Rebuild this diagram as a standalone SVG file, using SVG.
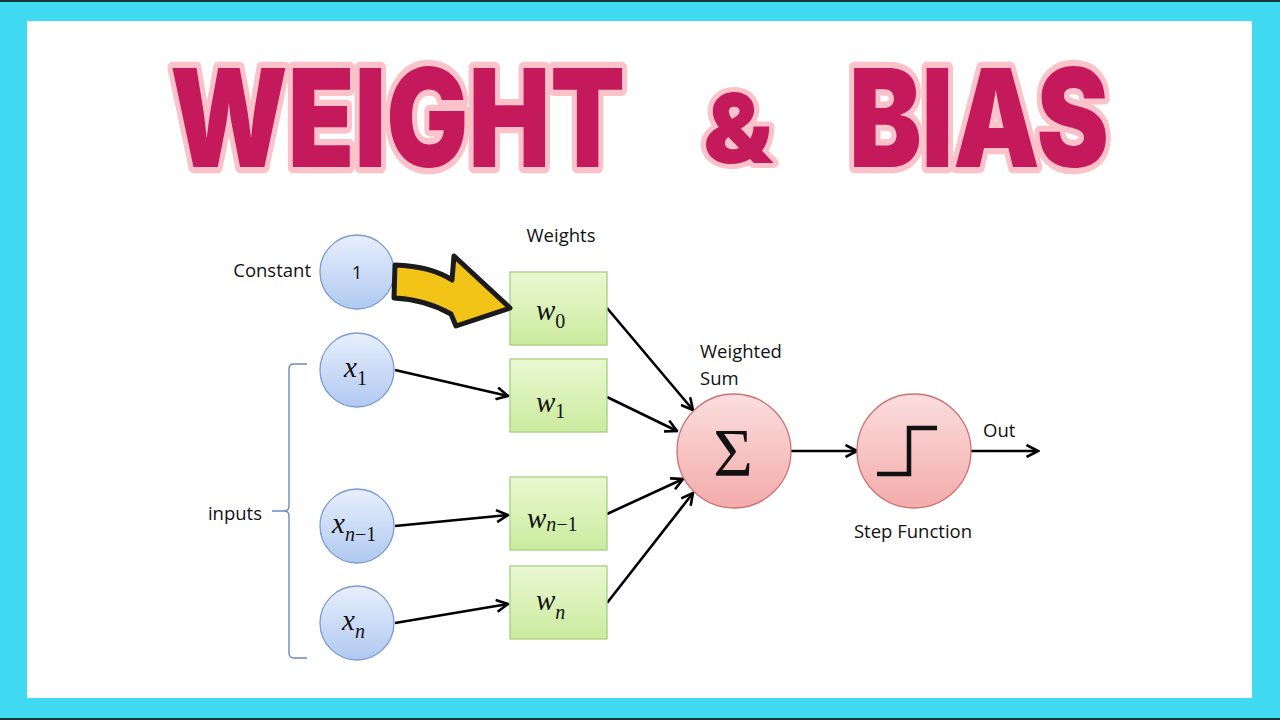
<svg xmlns="http://www.w3.org/2000/svg" width="1280" height="720" viewBox="0 0 1280 720">
<defs>
<style>
.lbl{font-family:"Open Sans","Liberation Sans",sans-serif;font-size:18.5px;fill:#111}
.math{font-family:"Liberation Serif","DejaVu Serif",serif;font-style:italic;font-size:29px;fill:#111}
.sub{font-style:normal;font-size:20px}
.subi{font-style:italic;font-size:20px}
.in{stroke:#7b9bd2;stroke-width:1.3;fill:url(#gb)}
.wt{stroke:#a7cf80;stroke-width:1.3;fill:url(#gg)}
.op{stroke:#cc7272;stroke-width:1.3;fill:url(#gp)}
.con{stroke:#000;stroke-width:2.6;fill:none;marker-end:url(#ah)}
.title{font-family:Inter,"DejaVu Sans",sans-serif;font-weight:900;fill:#c41a5c;stroke:#fbc2c9;stroke-width:10;stroke-linejoin:round;paint-order:stroke}
</style>
<linearGradient id="gb" x1="0" y1="0" x2="0" y2="1"><stop offset="0" stop-color="#e8effc"/><stop offset="1" stop-color="#b0c9f1"/></linearGradient>
<linearGradient id="gg" x1="0" y1="0" x2="0" y2="1"><stop offset="0" stop-color="#eaf8d2"/><stop offset="1" stop-color="#cbeb9e"/></linearGradient>
<linearGradient id="gp" x1="0" y1="0" x2="0" y2="1"><stop offset="0" stop-color="#fbdede"/><stop offset="1" stop-color="#f4abab"/></linearGradient>
<marker id="ah" markerUnits="userSpaceOnUse" viewBox="0 0 14 14" markerWidth="14" markerHeight="14" refX="12.5" refY="7" orient="auto">
<path d="M1,1 L12.5,7 L1,13" fill="none" stroke="#000" stroke-width="2.6" stroke-linejoin="miter"/>
</marker>
</defs>

<rect x="0" y="0" width="1280" height="720" fill="#3fd9f2"/>
<rect x="0" y="0" width="1280" height="2" fill="#15363c"/>
<rect x="0" y="718" width="1280" height="2" fill="#15363c"/>
<rect x="27" y="21" width="1225" height="677" fill="#ffffff"/>

<g id="title">
<text class="title" transform="translate(170,167) scale(1,1.24)" x="0" y="0" font-size="110" textLength="455" lengthAdjust="spacingAndGlyphs">WEIGHT</text>
<text class="title" x="703" y="163" font-size="96" textLength="70" lengthAdjust="spacingAndGlyphs">&amp;</text>
<text class="title" transform="translate(849,167) scale(1,1.24)" x="0" y="0" font-size="110" textLength="260" lengthAdjust="spacingAndGlyphs">BIAS</text>
</g>

<g id="connectors">
<line class="con" x1="395" y1="370" x2="508" y2="396"/>
<line class="con" x1="395" y1="526" x2="508" y2="515"/>
<line class="con" x1="395" y1="623" x2="508" y2="604"/>
<line class="con" x1="607" y1="308" x2="693" y2="410"/>
<line class="con" x1="607" y1="397" x2="677" y2="431"/>
<line class="con" x1="607" y1="514" x2="683" y2="479"/>
<line class="con" x1="607" y1="603" x2="693" y2="493"/>
<line class="con" x1="791" y1="451" x2="857" y2="451"/>
<line class="con" x1="971" y1="451" x2="1038" y2="451"/>
</g>

<g id="inputs-brace">
<path d="M307,364 L294,364 Q289,364 289,369 L289,506 Q289,511 284,511 L272,511 M284,511 Q289,511 289,516 L289,653 Q289,658 294,658 L307,658" fill="none" stroke="#6a8cbc" stroke-width="1.4"/>
<text class="lbl" x="262" y="520" text-anchor="end">inputs</text>
</g>

<g id="constant">
<circle class="in" cx="357" cy="272" r="37"/>
<text class="lbl" x="357" y="279" text-anchor="middle">1</text>
<text class="lbl" x="311" y="277" text-anchor="end">Constant</text>
</g>

<g id="x1">
<circle class="in" cx="357" cy="370" r="37"/>
<text class="math" x="344" y="377">x<tspan class="sub" dy="8">1</tspan></text>
</g>

<g id="xn-1">
<circle class="in" cx="357" cy="526" r="37"/>
<text class="math" x="332" y="533">x<tspan class="subi" dy="8">n</tspan><tspan class="sub">−1</tspan></text>
</g>

<g id="xn">
<circle class="in" cx="357" cy="623" r="37"/>
<text class="math" x="342" y="630">x<tspan class="subi" dy="8">n</tspan></text>
</g>

<g id="w0">
<rect class="wt" x="510" y="272" width="97" height="73"/>
<text class="math" x="536" y="320">w<tspan class="sub" dy="8">0</tspan></text>
<text class="lbl" x="561" y="242" text-anchor="middle">Weights</text>
</g>

<g id="w1">
<rect class="wt" x="510" y="359" width="97" height="73"/>
<text class="math" x="536" y="412">w<tspan class="sub" dy="6">1</tspan></text>
</g>

<g id="wn-1">
<rect class="wt" x="510" y="477" width="97" height="73"/>
<text class="math" x="527" y="528">w<tspan class="subi" dy="3">n</tspan><tspan class="sub">−1</tspan></text>
</g>

<g id="wn">
<rect class="wt" x="510" y="566" width="97" height="73"/>
<text class="math" x="536" y="610">w<tspan class="subi" dy="9">n</tspan></text>
</g>

<g id="sum">
<circle class="op" cx="734" cy="451" r="57"/>
<text x="733" y="475" text-anchor="middle" font-family="Liberation Serif,DejaVu Serif,serif" font-size="68" fill="#111">Σ</text>
<text class="lbl" x="700" y="358">Weighted</text>
<text class="lbl" x="700" y="385">Sum</text>
</g>

<g id="step">
<circle class="op" cx="914" cy="451" r="57"/>
<path d="M877,474 L909,474 L909,428 L937,428" fill="none" stroke="#111" stroke-width="4.5"/>
<text class="lbl" x="913" y="538" text-anchor="middle">Step Function</text>
<text class="lbl" x="983" y="437">Out</text>
</g>

<g id="highlight-arrow">
<path d="M395,265 C420,266 440,272 452,280 L454,256 L510,308 L456,326 L451,314 C435,305 415,299 394,298 Z" fill="#f2c417" stroke="#1b1b1b" stroke-width="5" stroke-linejoin="round"/>
</g>
</svg>
